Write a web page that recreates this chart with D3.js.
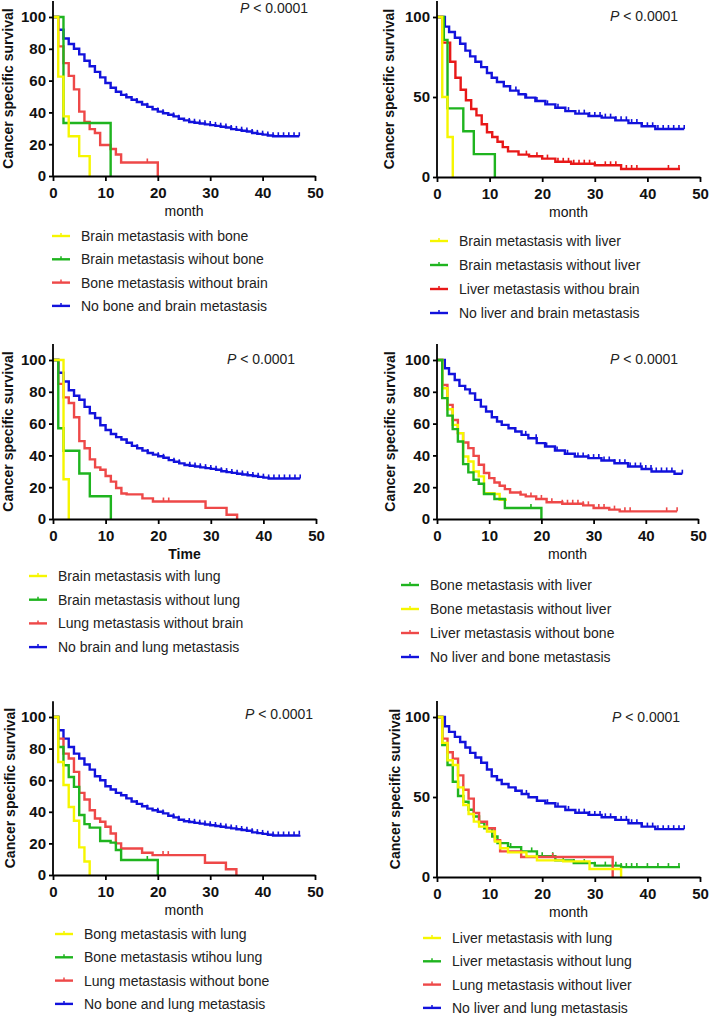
<!DOCTYPE html>
<html><head><meta charset="utf-8">
<script src="https://cdn.jsdelivr.net/npm/d3@7"></script>
<style>
body{margin:0;background:#fff;}
svg{display:block;font-family:"Liberation Sans",Arial,sans-serif;}
</style></head>
<body>
<svg id="chart" width="709" height="1017"></svg>
<script>
// ---------------- DATA ----------------
const xTicks = [0,10,20,30,40,50];
const yTicks20 = [0,20,40,60,80,100];
const yTicks50 = [0,50,100];
const pText = "< 0.0001";

// Panel 1
const p1Labels = ["Brain metastasis with bone","Brain metastasis wihout bone","Bone metastasis without brain","No bone and brain metastasis"];
const p1Yellow = [[0,100],[1,62.5],[2,37.5],[3,25],[5,12.5],[7,0]];
const p1Green = [[0,100],[2,33.3],[11,0]];
const p1Red = [[0,100],[1,81.5],[2,71],[3,63],[4,54.5],[5,40.5],[6,34],[7,29.5],[8,27],[9,19.5],[11,17],[12,13.5],[13,8.5],[20,0]];
const p1RedCensor = [18];
const p1Blue = [[0,100],[1,92],[2,86.5],[3,83],[4,80],[5,76.5],[6,72.5],[7,69],[8,65.5],[9,62],[10,58.5],[11,55.5],[12,53],[13,51],[14,49.5],[15,48],[16,46.5],[17,45],[18,43.5],[19,42],[20,40.5],[21,39.5],[22,38.5],[23,37.5],[24,36],[25,35],[26,34],[27,33.5],[28,33],[29,32.5],[30,32],[31,31.5],[32,31],[33,30.5],[34,29.5],[35,29],[36,28.5],[37,28],[38,27],[39,26.5],[40,26],[41,25.5],[42,25],[47,25]];
const p1BlueCensor = [14,16,18,20,21,23,24,26,27,28,29,30,31,32,33,34,35,36,37,38,39,40,41,42,43,44,45,46,47];

// Panel 2
const p2Labels = ["Brain metastasis with liver","Brain metastasis without liver","Liver metastasis withou brain","No liver and brain metastasis"];
const p2Yellow = [[0,100],[1,50],[2,25],[3,0]];
const p2Green = [[0,100],[1.3,85.7],[2,42.9],[5,28.6],[7,14.3],[11,0]];
const p2Red = [[0,100],[1,84],[2.5,72],[3.5,62],[4.5,54.5],[5.5,48],[6.5,42.5],[7.5,38.5],[8.5,33],[9.5,28],[10.5,25],[11.5,22],[12.5,18.7],[13.5,16],[15.5,14],[17.5,13],[20,11.5],[22.5,9.5],[25.5,8.3],[30,7.3],[35,5],[46.2,5]];
const p2RedCensor = [17,19,21,23,24,25,26,27,28,29,30,32,33,34,35,36,37,38,44,46];
const p2Blue = [[0,100],[1.5,94],[2.3,90.6],[3.4,87],[4.4,83.3],[5.4,79],[6.3,75.4],[7.3,72],[8.4,68.7],[9.5,65],[10.4,62],[11.4,59.4],[12.7,56.7],[13.9,54],[15.5,51.7],[16.8,49.6],[18.7,47.5],[20.6,45.4],[22.5,43.3],[24.4,41.2],[26.3,39.6],[28.8,38.1],[31.3,37.1],[33.9,35.4],[36.4,33.7],[38.9,31.7],[41.5,30],[47,30]];
const p2BlueCensor = [15,17,19,21,23,25,27,28,29,30,31,32,33,34,35,36,37,38,39,40,41,42,43,44,45,46,47];

// Panel 3
const p3Labels = ["Brain metastasis with lung","Brain metastasis without lung","Lung metastasis without brain","No brain and lung metastasis"];
const p3Yellow = [[0,100],[2,25],[3,0]];
const p3Green = [[0,100],[1,57.1],[2,42.9],[5,28.6],[7,14.3],[11,0]];
const p3Red = [[0,100],[1,85],[2,76.5],[3,73],[4,64],[5,49],[6,44.5],[7,37.5],[8,32.5],[9,31],[10,27],[11,23.5],[12,19.5],[13,16],[14,15.5],[17,13],[19,11],[29,7],[33,2.7],[35,0]];
const p3RedCensor = [21,22];
const p3Blue = [[0,100],[1,92],[2,86.5],[3,81],[4,77.5],[5,75],[6,70.5],[7,66.5],[8,63.5],[9,59],[10,56],[11,53.5],[12,51.5],[13,50],[14,48],[15,46],[16,44.5],[17,43],[18,41.5],[19,40.5],[20,39.5],[21,38.5],[22,37],[23,36],[24,35],[25,34],[26,33.5],[27,33],[28,32.5],[29,32],[30,31.5],[31,31],[32,30],[33,29.5],[34,29],[35,28.5],[36,28],[37,27.5],[38,27],[39,26.5],[40,26],[41,25.5],[47,25.5]];
const p3BlueCensor = [14,16,18,20,21,23,24,26,27,28,29,30,31,32,33,34,35,36,37,38,39,40,41,42,43,44,45,46,47];

// Panel 4
const p4Labels = ["Bone metastasis with liver","Bone metastasis without liver","Liver metastasis without bone","No liver and bone metastasis"];
const p4Green = [[0,100],[1,76],[2,65],[3,56.5],[4,48.7],[5,34.5],[6,29.3],[7,24.7],[8,22.2],[9,15.7],[11,12.6],[13,6.9],[20,0]];
const p4GreenCensor = [18];
const p4Yellow = [[0,100],[1,82.2],[2,69],[3,59.2],[4,54],[5,39.3],[6,36.2],[7,29.9],[8,26.8],[9,16.3],[11,15.7],[12,12.1],[13.4,12.1]];
const p4Red = [[0,100],[1,84.3],[2,71.8],[3,62.3],[4,54],[5,48.1],[6,44.6],[7,39.7],[8,34.1],[9,28.9],[10,25.7],[11,23],[12,20.9],[13,18.8],[14,16.7],[16,15.3],[17,14.2],[19,12.6],[21,10.5],[24,9.6],[28,8.6],[30,6.9],[33,5.9],[35,4.8],[46,4.8]];
const p4RedCensor = [16,18,20,22,24,25,26,27,28,29,31,32,34,36,37,44,46];
const p4Blue = [[0,100],[1.5,94.8],[2.3,91.2],[3.4,87.4],[4.3,83.7],[5.4,81.5],[6.3,79],[7.3,74.9],[8.4,70.7],[9.4,67.6],[10.5,64],[11.5,61.3],[12.4,59.2],[13.7,57.1],[15,55],[16.2,52.9],[17.5,50.8],[19.1,47.7],[20.7,45.6],[22.6,43.1],[24.5,41],[26.4,39.3],[29,38.3],[31.5,36.8],[34,35.1],[36.6,33],[39.2,31.4],[41.1,29.9],[45.5,28.5],[47,28.5]];
const p4BlueCensor = [15,17,19,21,23,25,27,28,29,30,31,32,33,34,35,36,37,38,39,40,41,42,43,44,45,47];

// Panel 5
const p5Labels = ["Bong metastasis with lung","Bone metastasis wtihou lung","Lung metastasis without bone","No bone and lung metastasis"];
const p5Yellow = [[0,100],[1,71.5],[2,57],[3,43],[4,34.3],[5,17.5],[6,8.5],[7,0]];
const p5Green = [[0,100],[1,81],[2,69.5],[3,62],[4,55.8],[5,38],[6,32.2],[7,30],[9,21.5],[11,20.5],[12,15.8],[13,9.5],[20,0]];
const p5GreenCensor = [18];
const p5Red = [[0,100],[1,86.3],[2,76.8],[3,73.7],[4,65.3],[5,52],[6,47.8],[7,41],[8,35.8],[9,33.7],[10,30.5],[11,26.3],[12,20],[13,16.8],[17,14.1],[19,12.6],[29,7.8],[33,3.6],[35,0]];
const p5RedCensor = [21,22];
const p5Blue = [[0,100],[1,91.6],[2,86.3],[3,81],[4,76.8],[5,73.7],[6,69.9],[7,66.7],[8,62.5],[9,60],[10,56.2],[11,54.1],[12,52],[13,50.5],[14,48.5],[15,46.5],[16,45],[17,43.5],[18,42],[19,41],[20,40],[21,39],[22,37.5],[23,36.5],[24,35],[25,34],[26,33.5],[27,33],[28,32.5],[29,32],[30,31.5],[31,31],[32,30.5],[33,30],[34,29.5],[35,29],[36,28.5],[37,28],[38,27],[39,26.5],[40,26],[41,25.5],[42,25],[47,25.5]];
const p5BlueCensor = [14,16,18,20,21,23,24,26,27,28,29,30,31,32,33,34,35,36,37,38,39,40,41,42,43,44,45,46,47];

// Panel 6
const p6Labels = ["Liver metastasis with lung","Liver metastasis without lung","Lung metastasis without liver","No liver and lung metastasis"];
const p6Yellow = [[0,100],[1,83.8],[2,73],[3,70],[4,56],[5,45],[6,39.4],[7,34.6],[8,31.5],[9.5,28.4],[11,22.2],[12,18],[13.5,15.4],[17,12.9],[19,10.4],[24,9.75],[29,5],[35,0]];
const p6Green = [[0,100],[1,82.4],[2,70],[3,59.5],[4,50.6],[5,47],[6,42],[7,37.8],[8,34],[9,30.5],[10.5,25.3],[11.5,21.2],[13.5,18.7],[16,16],[19,13],[22.5,10.4],[26,8.7],[30,7.1],[35,6.2],[46.2,6.2]];
const p6GreenCensor = [14,18,20,22,24,26,28,30,32,34,35,36,37,38,40,42,44,46];
const p6Red = [[0,100],[1,86.5],[2,78],[3,74],[4,63.5],[5,54.5],[6,49],[7,40],[8,34.5],[9.5,30.5],[11,23],[12,16],[16,12.5],[33.4,0]];
const p6RedCensor = [22];
const p6Blue = [[0,100],[1.5,94.2],[2.3,90.7],[3.4,87.6],[4.4,84.4],[5.4,80.9],[6.3,77.6],[7.3,74.7],[8.4,71.4],[9.5,67.2],[10.4,63],[11.4,60.6],[12.3,58.1],[13.6,56],[14.9,53.9],[16.1,51.9],[17.4,49.8],[19,47.7],[20.6,46.1],[22.5,44],[24.4,41.9],[26.3,40.2],[28.8,38.8],[31.3,37.3],[33.9,35.7],[36.4,33.6],[38.9,31.5],[41.5,29.9],[47,29.9]];
const p6BlueCensor = [15,17,19,21,23,25,27,28,29,30,31,32,33,34,35,36,37,38,39,40,41,42,43,44,45,46,47];

// ---------------- STYLE ----------------
const C = {yellow:"#f6f600", green:"#1fb41f", red:"#ee4848", redDeep:"#e81818", blue:"#1212dc"};

const panels = [
  {x0:53,x1:315,y0:176,y100:17,yt:yTicks20,title:"month",bold:false,ytX:8,pX:240,pY:8,legX:52,legY:236,legDy:23.3,
   series:[{l:p1Labels[0],c:C.yellow,d:p1Yellow},{l:p1Labels[1],c:C.green,d:p1Green},{l:p1Labels[2],c:C.red,d:p1Red,cz:p1RedCensor},{l:p1Labels[3],c:C.blue,d:p1Blue,cz:p1BlueCensor}],
   order:[3,2,1,0]},
  {x0:437,x1:700,y0:177,y100:17,yt:yTicks50,title:"month",bold:false,ytX:389,pX:610,pY:16,legX:430,legY:241,legDy:24,
   series:[{l:p2Labels[0],c:C.yellow,d:p2Yellow},{l:p2Labels[1],c:C.green,d:p2Green},{l:p2Labels[2],c:C.redDeep,d:p2Red,cz:p2RedCensor},{l:p2Labels[3],c:C.blue,d:p2Blue,cz:p2BlueCensor}],
   order:[3,2,1,0]},
  {x0:53,x1:316,y0:519,y100:360,yt:yTicks20,title:"Time",bold:true,ytX:8,pX:227,pY:359,legX:29,legY:576,legDy:23.7,
   series:[{l:p3Labels[0],c:C.yellow,d:p3Yellow},{l:p3Labels[1],c:C.green,d:p3Green},{l:p3Labels[2],c:C.red,d:p3Red,cz:p3RedCensor},{l:p3Labels[3],c:C.blue,d:p3Blue,cz:p3BlueCensor}],
   order:[3,2,1,0]},
  {x0:437,x1:698,y0:519,y100:360,yt:yTicks20,title:"month",bold:false,ytX:390,pX:610,pY:359,legX:401,legY:585,legDy:24,
   series:[{l:p4Labels[0],c:C.green,d:p4Green,cz:p4GreenCensor},{l:p4Labels[1],c:C.yellow,d:p4Yellow},{l:p4Labels[2],c:C.red,d:p4Red,cz:p4RedCensor},{l:p4Labels[3],c:C.blue,d:p4Blue,cz:p4BlueCensor}],
   order:[3,2,1,0]},
  {x0:53,x1:315,y0:875,y100:717,yt:yTicks20,title:"month",bold:false,ytX:10,pX:245,pY:714,legX:55,legY:934,legDy:23.3,
   series:[{l:p5Labels[0],c:C.yellow,d:p5Yellow},{l:p5Labels[1],c:C.green,d:p5Green,cz:p5GreenCensor},{l:p5Labels[2],c:C.red,d:p5Red,cz:p5RedCensor},{l:p5Labels[3],c:C.blue,d:p5Blue,cz:p5BlueCensor}],
   order:[3,2,1,0]},
  {x0:437,x1:700,y0:877,y100:717,yt:yTicks50,title:"month",bold:false,ytX:395,pX:612,pY:717,legX:423,legY:938,legDy:23.3,
   series:[{l:p6Labels[0],c:C.yellow,d:p6Yellow},{l:p6Labels[1],c:C.green,d:p6Green,cz:p6GreenCensor},{l:p6Labels[2],c:C.red,d:p6Red,cz:p6RedCensor},{l:p6Labels[3],c:C.blue,d:p6Blue,cz:p6BlueCensor}],
   order:[3,1,2,0]}
];

const svg = d3.select("#chart");

// value at time t for step function
function survAt(d, t){ let v=d[0][1]; for(const p of d){ if(p[0]<=t) v=p[1]; } return v; }

panels.forEach(P=>{
  const g = svg.append("g");
  const x = d3.scaleLinear().domain([0,50]).range([P.x0,P.x1]);
  const yTop = P.y0 - (P.y0-P.y100)*1.1;
  const y = d3.scaleLinear().domain([0,110]).range([P.y0,yTop]);

  // curves
  const line = d3.line().x(d=>x(d[0])).y(d=>y(d[1])).curve(d3.curveStepAfter);
  P.order.forEach(i=>{
    const s = P.series[i];
    g.append("path").attr("d", line(s.d)).attr("fill","none").attr("stroke",s.c).attr("stroke-width",2.4);
    if(s.cz){
      const last = s.d[s.d.length-1][0];
      g.selectAll(null).data(s.cz.filter(t=>t<=last)).enter().append("line")
        .attr("x1",t=>x(t)).attr("x2",t=>x(t))
        .attr("y1",t=>y(survAt(s.d,t))).attr("y2",t=>y(survAt(s.d,t))-4)
        .attr("stroke",s.c).attr("stroke-width",1.6);
    }
  });

  // axes
  const xa = g.append("g").attr("transform",`translate(0,${P.y0})`)
    .call(d3.axisBottom(x).tickValues(xTicks).tickSize(5).tickSizeOuter(0).tickPadding(6));
  const ya = g.append("g").attr("transform",`translate(${P.x0},0)`)
    .call(d3.axisLeft(y).tickValues(P.yt).tickSize(4).tickSizeOuter(0).tickPadding(3));
  [xa,ya].forEach(a=>{
    a.select(".domain").attr("stroke","#000").attr("stroke-width",1.8);
    a.selectAll(".tick line").attr("stroke","#000").attr("stroke-width",1.8);
    a.selectAll(".tick text").attr("fill","#111").attr("font-size",15).attr("font-weight","bold")
      .attr("font-family","'Liberation Sans',Arial,sans-serif");
  });
  // extend y domain line to top
  ya.select(".domain").attr("d",`M0,${P.y0}V${yTop}`);

  // axis titles
  g.append("text").attr("x",(P.x0+P.x1)/2).attr("y",P.y0+40).attr("text-anchor","middle")
    .attr("font-size",14).attr("font-weight",P.bold?"bold":"normal").attr("fill","#111").text(P.title);
  g.append("text").attr("transform",`translate(${P.ytX},${(P.y0+yTop)/2}) rotate(-90)`)
    .attr("text-anchor","middle").attr("dy","0.35em").attr("font-size",14).attr("font-weight","bold")
    .attr("fill","#111").text("Cancer specific survival");

  // P value
  const pt = g.append("text").attr("x",P.pX).attr("y",P.pY).attr("dy","0.35em").attr("font-size",14).attr("fill","#222");
  pt.append("tspan").attr("font-style","italic").text("P");
  pt.append("tspan").text(" " + pText);

  // legend
  P.series.forEach((s,i)=>{
    const ly = P.legY + i*P.legDy;
    g.append("line").attr("x1",P.legX).attr("x2",P.legX+18).attr("y1",ly).attr("y2",ly)
      .attr("stroke",s.c).attr("stroke-width",2.4);
    g.append("line").attr("x1",P.legX+9).attr("x2",P.legX+9).attr("y1",ly).attr("y2",ly-3)
      .attr("stroke",s.c).attr("stroke-width",1.5);
    g.append("text").attr("x",P.legX+29).attr("y",ly).attr("dy","0.35em").attr("font-size",14)
      .attr("fill","#222").text(s.l);
  });
});
</script>
</body></html>
